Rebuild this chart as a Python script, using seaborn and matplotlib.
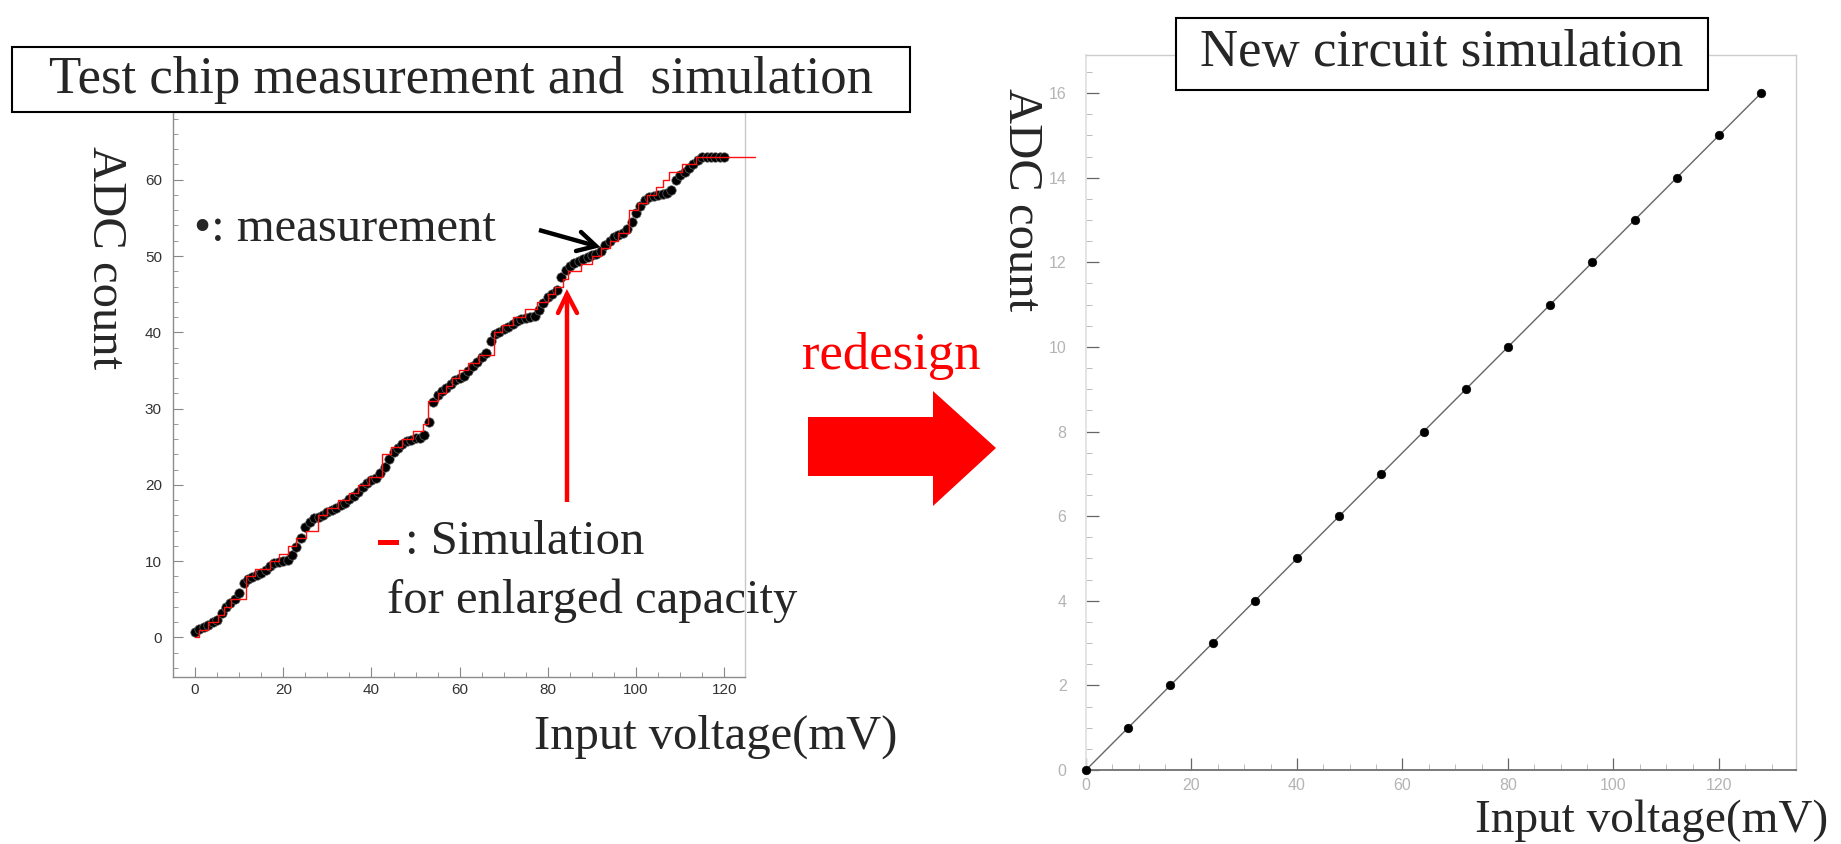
import matplotlib
matplotlib.use("Agg")
import matplotlib.pyplot as plt
from matplotlib.patches import Rectangle, Polygon
from matplotlib.lines import Line2D
import seaborn as sns
import numpy as np

# ---------------- data ----------------
# Left panel: test chip measurement (input voltage mV -> mean ADC count)
meas_x = list(range(0, 121))
meas_y = [0.7, 1.1, 1.4, 1.7, 2.0, 2.3, 3.2, 4.0, 4.5, 5.0,
          5.8, 7.1, 7.6, 7.9, 8.2, 8.5, 8.9, 9.4, 9.8, 9.9,
          10.0, 10.2, 10.8, 11.8, 13.1, 14.5, 15.2, 15.6, 15.8, 16.1,
          16.4, 16.7, 17.0, 17.3, 17.6, 18.1, 18.5, 19.1, 19.7, 20.3,
          20.7, 20.9, 21.5, 22.3, 23.4, 24.3, 24.9, 25.3, 25.7, 25.9,
          26.1, 26.2, 26.6, 28.2, 30.8, 31.8, 32.3, 32.7, 33.2, 33.7,
          34.0, 34.3, 34.9, 35.6, 36.1, 36.7, 37.3, 38.8, 39.8, 40.1,
          40.4, 40.7, 41.1, 41.5, 41.7, 41.9, 42.0, 42.2, 42.9, 43.8,
          44.6, 45.0, 45.6, 47.2, 48.2, 48.7, 49.1, 49.4, 49.6, 49.9,
          50.1, 50.3, 50.7, 51.4, 52.0, 52.5, 52.8, 53.0, 53.6, 54.5,
          55.6, 56.6, 57.3, 57.7, 57.9, 58.0, 58.1, 58.3, 58.7, 59.9,
          60.6, 61.0, 61.5, 62.0, 62.6, 63.0, 63.0, 63.0, 63.0, 63.0,
          63.0]

# Left panel: simulation for enlarged capacity (staircase edges / codes)
sim_x = [0, 1.0, 3.0, 5.2, 6.6, 8.2, 11.6, 13.6, 17.0, 19.0, 21.0, 23.0,
         25.2, 27.9, 30.0, 32.5, 35.0, 37.0, 39.5, 42.3, 44.5, 47.0, 49.5, 51.8,
         52.8, 55.0, 56.8, 58.3, 59.8, 61.9, 64.3, 67.7, 69.5, 72.0, 74.8, 77.5,
         80.0, 81.6, 83.5, 84.5, 87.5, 90.0, 92.0, 94.0, 96.0, 98.3, 100.5, 102.5,
         104.5, 106.0, 107.4, 110.5, 113.5, 127.0]
sim_y = [0, 1, 2, 3, 4, 5, 8, 9, 10, 11, 12, 13,
         14, 16, 17, 18, 19, 20, 21, 24, 25, 26, 27, 28,
         31, 32, 33, 34, 35, 36, 37, 40, 41, 42, 43, 44,
         45, 46, 47, 48, 49, 50, 51, 52, 53, 56, 57, 58,
         59, 60, 61, 62, 63, 63]

# Right panel: new circuit simulation
new_x = [0, 8, 16, 24, 32, 40, 48, 56, 64, 72, 80, 88, 96, 104, 112, 120, 128]
new_y = [0, 1, 2, 3, 4, 5, 6, 7, 8, 9, 10, 11, 12, 13, 14, 15, 16]

left_xticks = [0, 20, 40, 60, 80, 100, 120]
left_yticks = [0, 10, 20, 30, 40, 50, 60]
right_xticks = [0, 20, 40, 60, 80, 100, 120]
right_yticks = [0, 2, 4, 6, 8, 10, 12, 14, 16]

# ---------------- figure ----------------
sns.set_theme(style="white")
plt.rcParams["font.family"] = ["Liberation Sans", "DejaVu Sans"]
W, H = 1841, 844
fig = plt.figure(figsize=(W / 100, H / 100), dpi=100)
fig.patch.set_facecolor("white")


def fx(px):
    return px / W


def fy(py):
    return 1 - py / H


SERIF = ["Liberation Serif", "DejaVu Serif"]

# ---------- left axes ----------
L, R, T, B = 173, 745, 111.5, 677
ax1 = fig.add_axes([fx(L), fy(B), fx(R - L), (B - T) / H])
ax1.set_xlim(-5, 124.7)
ax1.set_ylim(-5.18, 68.94)
sns.lineplot(x=sim_x, y=sim_y, ax=ax1, drawstyle="steps-post", color="#ff1010",
             linewidth=1.0, estimator=None, sort=False, zorder=3)
for ln in ax1.lines:
    ln.set_clip_on(False)
sns.scatterplot(x=meas_x, y=meas_y, ax=ax1, color="black", s=46, edgecolor="#666666",
                linewidth=0.5, zorder=2)
ax1.set_xticks(left_xticks)
ax1.set_yticks(left_yticks)
ax1.set_xticks(np.arange(0, 125, 5), minor=True)
ax1.set_yticks(np.arange(-4, 69, 2), minor=True)
ax1.tick_params(axis="both", which="major", direction="in", length=7, width=0.8,
                color="#888888", labelsize=11, labelcolor="#333333")
ax1.tick_params(axis="both", which="minor", direction="in", length=3.5, width=0.7,
                color="#999999")
ax1.tick_params(axis="x", pad=4)
ax1.tick_params(axis="y", pad=8)
ax1.tick_params(which="both", left=True, bottom=True)
for s in ["left", "bottom"]:
    ax1.spines[s].set_color("#8c8c8c")
    ax1.spines[s].set_linewidth(1.0)
for s in ["top", "right"]:
    ax1.spines[s].set_color("#c8c8c8")
    ax1.spines[s].set_linewidth(1.0)
ax1.set_xlabel("")
ax1.set_ylabel("")

# ---------- right axes ----------
L2, R2, T2, B2 = 1086, 1796, 55, 770
ax2 = fig.add_axes([fx(L2), fy(B2), fx(R2 - L2), (B2 - T2) / H])
ax2.set_xlim(0, 134.6)
ax2.set_ylim(0, 16.9)
sns.lineplot(x=new_x, y=new_y, ax=ax2, color="#666666", linewidth=1.0,
             estimator=None, zorder=2)
sns.scatterplot(x=new_x, y=new_y, ax=ax2, color="black", s=40, marker="o",
                edgecolor="black", linewidth=0.3, zorder=3, clip_on=False)
ax2.set_xticks(right_xticks)
ax2.set_yticks(right_yticks)
ax2.set_xticks(np.arange(0, 135, 5), minor=True)
ax2.set_yticks(np.arange(0, 17, 0.5), minor=True)
ax2.tick_params(axis="both", which="major", direction="in", length=9, width=0.9,
                color="#666666", labelsize=11.5, labelcolor="#b4b4b4")
ax2.tick_params(axis="both", which="minor", direction="in", length=4.5, width=0.7,
                color="#bbbbbb")
ax2.tick_params(axis="x", pad=6)
ax2.tick_params(axis="y", pad=14)
ax2.tick_params(which="both", left=True, bottom=True)
ax2.spines["bottom"].set_color("#707070")
ax2.spines["bottom"].set_linewidth(1.3)
ax2.spines["left"].set_color("#e0e0e0")
for s in ["top", "right"]:
    ax2.spines[s].set_color("#cccccc")
    ax2.spines[s].set_linewidth(1.0)
ax2.set_xlabel("")
ax2.set_ylabel("")

# ---------- title boxes ----------
fig.add_artist(Rectangle((fx(12), fy(112)), fx(898), 65 / H, transform=fig.transFigure,
                         facecolor="white", edgecolor="black", linewidth=1.5, zorder=5))
fig.text(fx(461), fy(80), "Test chip measurement and  simulation", fontsize=38,
         family=SERIF, ha="center", va="center", zorder=6)

fig.add_artist(Rectangle((fx(1176), fy(90)), fx(532), 72 / H, transform=fig.transFigure,
                         facecolor="white", edgecolor="black", linewidth=1.5, zorder=5))
fig.text(fx(1442), fy(53), "New circuit simulation", fontsize=38,
         family=SERIF, ha="center", va="center", zorder=6)

# ---------- axis label texts ----------
fig.text(fx(105), fy(258), "ADC count", fontsize=35, family=SERIF, rotation=-90,
         ha="center", va="center")
fig.text(fx(716), fy(737), "Input voltage(mV)", fontsize=35, family=SERIF,
         ha="center", va="center")
fig.text(fx(1021), fy(200), "ADC count", fontsize=35, family=SERIF, rotation=-90,
         ha="center", va="center")
fig.text(fx(1652), fy(832), "Input voltage(mV)", fontsize=34, family=SERIF,
         ha="center", va="baseline")

# ---------- annotations ----------
fig.text(fx(194), fy(229), "\u2022: measurement", fontsize=35, family=SERIF,
         ha="left", va="center")
fig.add_artist(Rectangle((fx(378), fy(545)), fx(21), 5 / H, transform=fig.transFigure,
                         facecolor="#ff0000", edgecolor="none"))
fig.text(fx(405), fy(542), ": Simulation", fontsize=35, family=SERIF,
         ha="left", va="center")
fig.text(fx(387), fy(601), "for enlarged capacity", fontsize=35, family=SERIF,
         ha="left", va="center")
fig.text(fx(891), fy(356), "redesign", fontsize=38, family=SERIF, color="#ff0000",
         ha="center", va="center")

# black arrow
fig.add_artist(Line2D([fx(539), fx(596)], [fy(230), fy(246)], color="black", lw=3.2,
                      solid_capstyle="butt"))
fig.add_artist(Line2D([fx(581), fx(596), fx(576)], [fy(232), fy(246), fy(251)],
                      color="black", lw=3.2, solid_joinstyle="miter"))
# red arrow
fig.add_artist(Line2D([fx(567), fx(567)], [fy(502), fy(294)], color="#ff0000", lw=3.2,
                      solid_capstyle="butt"))
fig.add_artist(Line2D([fx(558), fx(567), fx(577)], [fy(313), fy(294), fy(313)],
                      color="#ff0000", lw=3.2, solid_joinstyle="miter"))

# big block arrow
arrow_pts = [(808, 417), (933, 417), (933, 391), (996, 448), (933, 506), (933, 476), (808, 476)]
fig.add_artist(Polygon([(fx(a), fy(b)) for a, b in arrow_pts], closed=True,
                       transform=fig.transFigure, facecolor="#ff0000", edgecolor="none"))

fig.savefig("out.png", dpi=100, facecolor="white")
